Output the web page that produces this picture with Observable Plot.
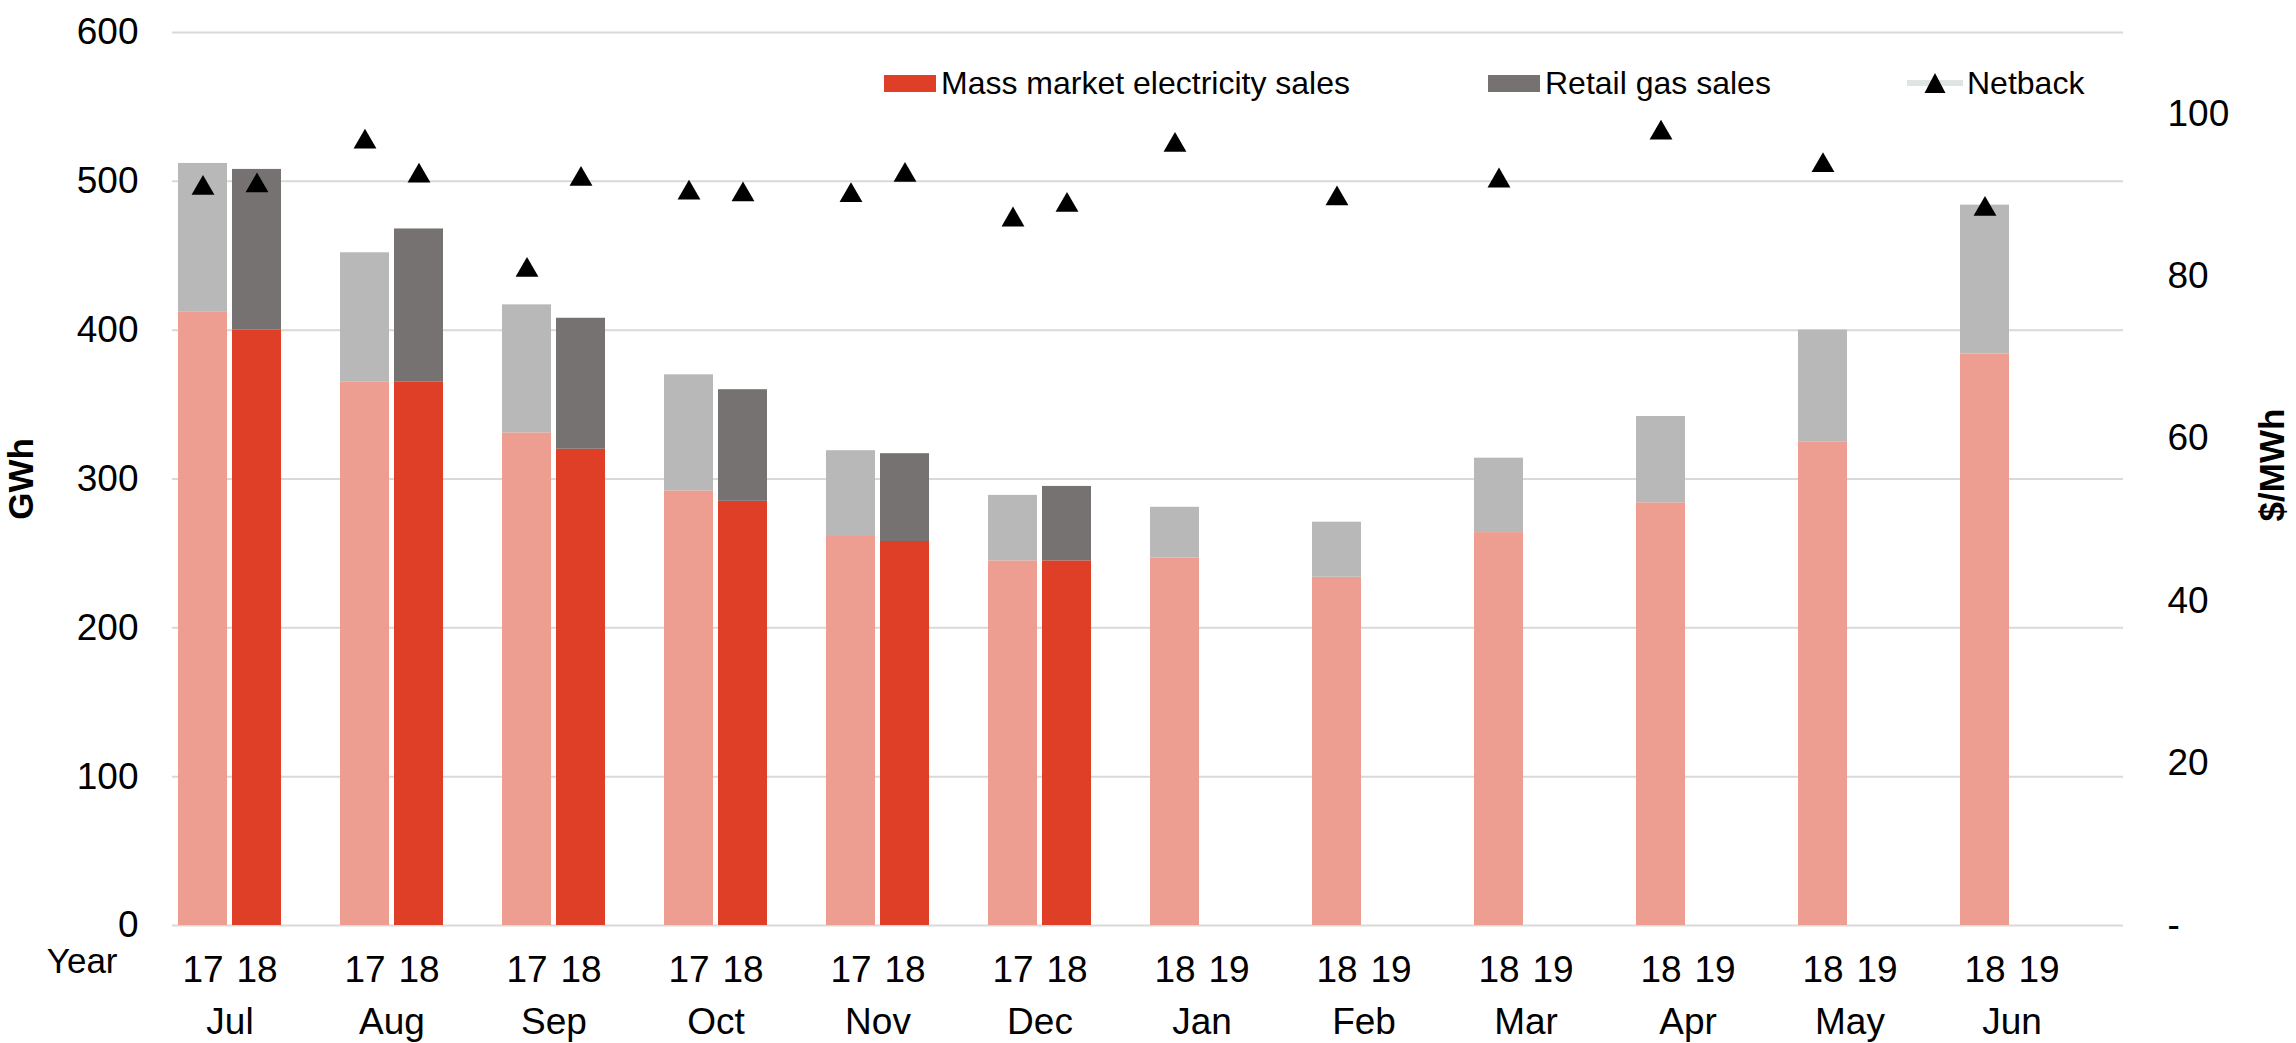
<!DOCTYPE html>
<html>
<head>
<meta charset="utf-8">
<script src="https://cdn.jsdelivr.net/npm/d3@7"></script>
<script src="https://cdn.jsdelivr.net/npm/@observablehq/plot@0.6"></script>
<style>
  html, body { margin: 0; padding: 0; background: #fff; }
  #wrap { position: relative; width: 2296px; height: 1043px; font-family: "Liberation Sans", Arial, sans-serif; }
  .lg { position: absolute; display: flex; align-items: center; font-size: 32px; line-height: 36px; color: #000; white-space: nowrap; }
  .sw { display: inline-block; margin-right: 5px; }
</style>
</head>
<body>
<div id="wrap"></div>
<script>
// ---- data ----
const months = ["Jul", "Aug", "Sep", "Oct", "Nov", "Dec", "Jan", "Feb", "Mar", "Apr", "May", "Jun"];
const prevYearLabels = ["17", "17", "17", "17", "17", "17", "18", "18", "18", "18", "18", "18"];
const currYearLabels = ["18", "18", "18", "18", "18", "18", "19", "19", "19", "19", "19", "19"];

// prior year (pale bars)
const elecPrev = [412, 365, 331, 292, 262, 245, 247, 234, 264, 284, 325, 384];
const gasPrev = [100, 87, 86, 78, 57, 44, 34, 37, 50, 58, 75, 100];
const netbackPrev = [91.2, 96.9, 81.1, 90.6, 90.3, 87.3, 96.5, 89.9, 92.1, 98.0, 94.0, 88.6];

// current year (strong bars) – only Jul–Dec available
const elecCurr = [400, 365, 320, 285, 258, 245, null, null, null, null, null, null];
const gasCurr = [108, 103, 88, 75, 59, 50, null, null, null, null, null, null];
const netbackCurr = [91.5, 92.7, 92.3, 90.4, 92.8, 89.1, null, null, null, null, null, null];

const leftTicks = [0, 100, 200, 300, 400, 500, 600];
const rightTicks = [0, 20, 40, 60, 80, 100];
const rightTickLabels = ["-", "20", "40", "60", "80", "100"];
const GWH_MAX = 600, NETBACK_MAX = 110;

const seriesNames = ["Mass market electricity sales", "Retail gas sales", "Netback"];

// ---- colours ----
const C_PINK = "#ED9E91", C_RED = "#DF3F26", C_LGRAY = "#B9B8B8", C_DGRAY = "#767271", C_GRID = "#D9D9D9";

// ---- build tables ----
const slotKeys = months.flatMap(m => [m + "|a", m + "|b", m + "|c"]);
const toLeft = v => v * GWH_MAX / NETBACK_MAX;
const fromLeft = v => v * NETBACK_MAX / GWH_MAX;

const prevRows = months.map((m, i) => ({key: m + "|a", elec: elecPrev[i], gas: gasPrev[i], netback: netbackPrev[i]}));
const currRows = months.map((m, i) => ({key: m + "|b", elec: elecCurr[i], gas: gasCurr[i], netback: netbackCurr[i]}))
  .filter(d => d.elec != null);
const dotRows = prevRows.concat(currRows).filter(d => d.netback != null);
const yearRows = months.flatMap((m, i) => [
  {key: m + "|a", label: prevYearLabels[i]},
  {key: m + "|b", label: currYearLabels[i]}
]);
const monthRows = months.map(m => ({key: m + "|a", label: m}));

const chart = Plot.plot({
  width: 2296,
  height: 1043,
  marginTop: 32,
  marginBottom: 118,
  marginLeft: 172,
  marginRight: 173,
  style: {fontFamily: '"Liberation Sans", Arial, sans-serif', background: "transparent", color: "#000"},
  x: {type: "band", domain: slotKeys, paddingInner: 0.096, paddingOuter: 0.048, align: 0.5, axis: null},
  y: {domain: [0, GWH_MAX], axis: null},
  marks: [
    Plot.ruleY(leftTicks, {stroke: C_GRID, strokeWidth: 2}),
    // prior-year stacks
    Plot.barY(prevRows, {x: "key", y1: 0, y2: "elec", fill: C_PINK}),
    Plot.barY(prevRows, {x: "key", y1: "elec", y2: d => d.elec + d.gas, fill: C_LGRAY}),
    // current-year stacks
    Plot.barY(currRows, {x: "key", y1: 0, y2: "elec", fill: C_RED}),
    Plot.barY(currRows, {x: "key", y1: "elec", y2: d => d.elec + d.gas, fill: C_DGRAY}),
    // netback (right axis, mapped onto the left scale)
    Plot.dot(dotRows, {x: "key", y: d => toLeft(d.netback), symbol: "triangle", r: 8.5, fill: "#000", stroke: "none", dy: 3}),
    // axes
    Plot.axisY({ticks: leftTicks, anchor: "left", tickSize: 0, tickPadding: 34, fontSize: 37, label: null}),
    Plot.axisY({ticks: rightTicks.map(toLeft), anchor: "right", tickSize: 0, tickPadding: 44, fontSize: 37, label: null,
      tickFormat: d => rightTickLabels[rightTicks.indexOf(Math.round(fromLeft(d)))]}),
    // category labels
    Plot.text(yearRows, {x: "key", text: "label", frameAnchor: "bottom", lineAnchor: "middle", textAnchor: "middle", dy: 45, fontSize: 37}),
    Plot.text(monthRows, {x: "key", text: "label", frameAnchor: "bottom", lineAnchor: "middle", textAnchor: "middle", dy: 97, dx: 27, fontSize: 37}),
    Plot.text(["Year"], {text: d => d, frameAnchor: "bottom-left", lineAnchor: "middle", textAnchor: "end", dx: -55, dy: 36, fontSize: 35}),
    // axis titles
    Plot.text(["GWh"], {text: d => d, frameAnchor: "left", textAnchor: "middle", lineAnchor: "middle", dx: -151, rotate: -90, fontSize: 35, fontWeight: "bold"}),
    Plot.text(["$/MWh"], {text: d => d, frameAnchor: "right", textAnchor: "middle", lineAnchor: "middle", dx: 149, dy: -14, rotate: -90, fontSize: 35, fontWeight: "bold"})
  ]
});

const wrap = document.getElementById("wrap");
wrap.appendChild(chart);

// legend (inside the plot area, top)
function addItem(left, swatchHTML, label) {
  const div = document.createElement("div");
  div.className = "lg";
  div.style.left = left + "px";
  div.style.top = "65px";
  div.innerHTML = swatchHTML + "<span>" + label + "</span>";
  wrap.appendChild(div);
}
addItem(884, `<span class="sw" style="width:52px;height:17px;background:${C_RED}"></span>`, seriesNames[0]);
addItem(1488, `<span class="sw" style="width:52px;height:17px;background:${C_DGRAY}"></span>`, seriesNames[1]);
addItem(1907, `<svg class="sw" width="56" height="22" style="margin-right:4px"><line x1="0" x2="56" y1="11" y2="11" stroke="#DDE6E1" stroke-width="6" stroke-linecap="round"/><path d="M28,1 L38.5,21 L17.5,21 Z" fill="#000"/></svg>`, seriesNames[2]);
</script>
</body>
</html>
